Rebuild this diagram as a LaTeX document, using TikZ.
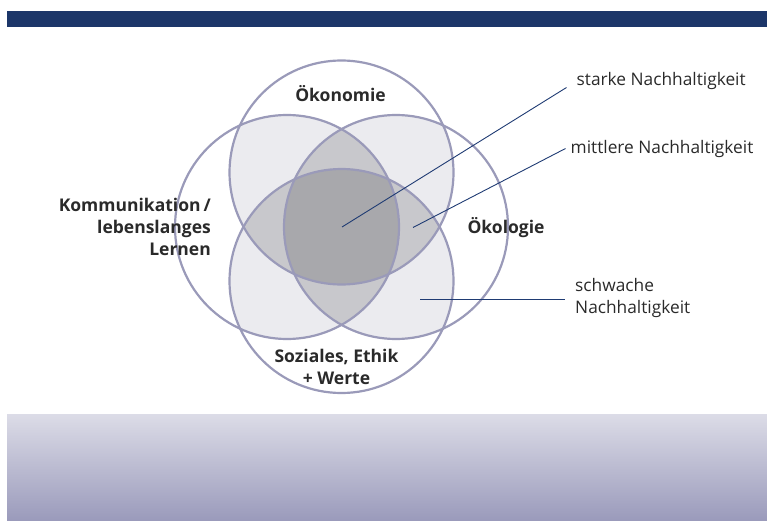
\documentclass[tikz,border=0pt]{standalone}
\usepackage{fontspec}
\setmainfont{Open Sans}
\definecolor{barblue}{HTML}{1C3669}
\definecolor{grtop}{HTML}{DCDCE7}
\definecolor{grbot}{HTML}{9A9ABB}
\definecolor{ringc}{HTML}{9A9AB9}
\definecolor{lightf}{HTML}{EBEBEF}
\definecolor{midf}{HTML}{C8C8CC}
\definecolor{darkf}{HTML}{A8A8AC}
\definecolor{linec}{HTML}{1F3B73}
\definecolor{txt}{HTML}{2A2A2A}
\tikzset{
  ring/.style={draw=ringc,line width=2.2pt},
  lead/.style={draw=linec,line width=0.9pt},
  biglabel/.style={font=\bfseries\fontsize{17.5}{22}\selectfont,text=txt,inner sep=0pt,align=center},
  smalllabel/.style={font=\fontsize{17.3}{22}\selectfont,text=txt,inner sep=0pt,align=left,anchor=west},
}
\begin{document}
\begin{tikzpicture}[x=1pt,y=-1pt]
\useasboundingbox (0,0) rectangle (767,521);
\fill[barblue] (7,11) rectangle (767,27);
\shade[top color=grtop,bottom color=grbot] (7,414) rectangle (767,521);
\def\rr{112}
\def\CT{(341.5,172.5) circle[radius=\rr]}
\def\CB{(341.5,281) circle[radius=\rr]}
\def\CL{(287,227) circle[radius=\rr]}
\def\CR{(396,227) circle[radius=\rr]}
% pairwise
\begin{scope}\clip \CT; \fill[lightf] \CL; \fill[lightf] \CR; \fill[lightf] \CB;\end{scope}
\begin{scope}\clip \CL; \fill[lightf] \CR; \fill[lightf] \CB;\end{scope}
\begin{scope}\clip \CR; \fill[lightf] \CB;\end{scope}
% triples
\begin{scope}\clip \CT; \clip \CL; \fill[midf] \CR; \fill[midf] \CB;\end{scope}
\begin{scope}\clip \CT; \clip \CR; \fill[midf] \CB;\end{scope}
\begin{scope}\clip \CL; \clip \CR; \fill[midf] \CB;\end{scope}
% all four
\begin{scope}\clip \CT; \clip \CL; \clip \CR; \fill[darkf] \CB;\end{scope}
% outlines
\draw[ring] \CT; \draw[ring] \CB; \draw[ring] \CL; \draw[ring] \CR;
% labels
\node[biglabel] (oekon) at (340.5,94) {Ökonomie};
\node[biglabel] (oekol) at (506,227.5) {Ökologie};
\node[biglabel] (soz) at (336.5,367) {Soziales, Ethik\\+ Werte};
\node[biglabel,align=right,anchor=east] (komm) at (211,226.5) {Kommunikation\,/\\lebenslanges\\Lernen};
\node[smalllabel] (starke) at (576.5,81) {starke Nachhaltigkeit};
\node[smalllabel] (mittlere) at (570.5,149) {mittlere Nachhaltigkeit};
\node[smalllabel] (schwach) at (575,298.5) {schwache\\Nachhaltigkeit};
% leader lines
\coordinate (a1) at (342,227);
\coordinate (a2) at (566.5,87.5);
\coordinate (b1) at (413,227.5);
\coordinate (b2) at (565.5,148.5);
\coordinate (c1) at (420,299.5);
\coordinate (c2) at (565,299.5);
\draw[lead] (a1) -- (a2);
\draw[lead] (b1) -- (b2);
\draw[lead] (c1) -- (c2);
\end{tikzpicture}
\end{document}
